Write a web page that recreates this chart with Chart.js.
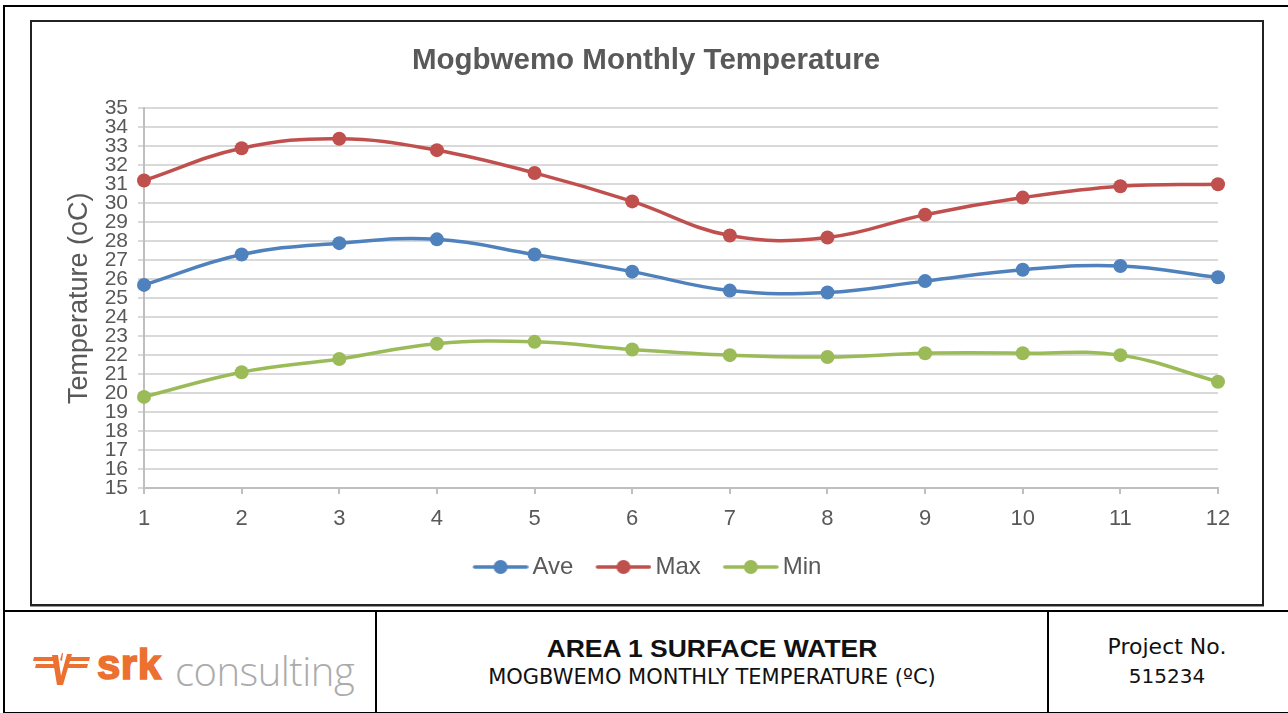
<!DOCTYPE html>
<html>
<head>
<meta charset="utf-8">
<script src="https://cdn.jsdelivr.net/npm/chart.js@4.4.0/dist/chart.umd.min.js"></script>
<style>
  body { margin: 0; background: #fff; width: 1288px; height: 713px; overflow: hidden; position: relative; font-family: "Liberation Sans", Arial, sans-serif; }
  .frame { position: absolute; left: 3px; top: 5px; width: 1300px; height: 705px; border: 2px solid #000; }
  .chartbox { position: absolute; left: 30px; top: 20px; width: 1230px; height: 582px; border: 2px solid #222; box-shadow: 0 1px 0 #999; }
  .chartwrap { position: absolute; left: 32px; top: 22px; width: 1228px; height: 580px; }
  .footline { position: absolute; left: 3px; top: 610px; width: 1300px; height: 2px; background: #000; }
  .vdiv { position: absolute; top: 611px; width: 2px; height: 101px; background: #000; }
  .ftxt { position: absolute; text-align: center; color: #111; font-family: "DejaVu Sans", sans-serif; white-space: nowrap; }
</style>
</head>
<body>
<div class="frame"></div>
<div class="chartbox"></div>
<div class="chartwrap"><canvas id="tempChart"></canvas></div>
<div class="footline"></div>
<div class="vdiv" style="left:375px"></div>
<div class="vdiv" style="left:1047px"></div>

<svg style="position:absolute;left:30px;top:648px" width="64" height="42" viewBox="0 0 64 42">
  <path d="M4 9 L27 9 L26 13 L3 13 Z M6 16 L27 16 L26 20 L5 20 Z" fill="#ec7030"/>
  <path d="M22 7 L28 7 L31 28 L37 6 L42 6 L33 37 L27 37 Z" fill="#ec7030"/>
  <path d="M30 12 L32 5 L33 5 L32 13 Z" fill="#ec7030"/>
  <path d="M39 9 L60 9 L59 13 L38 13 Z M38 16 L58 16 L57 20 L37 20 Z" fill="#ec7030"/>
</svg>
<div style="position:absolute;left:97px;top:641px;font:bold 42px 'Liberation Sans',Arial,sans-serif;color:#ec7030;-webkit-text-stroke:1.6px #ec7030;letter-spacing:0.5px">srk</div>
<div style="position:absolute;left:175px;top:643px;font:300 40px 'Open Sans','Liberation Sans',sans-serif;color:#ababab;letter-spacing:-0.5px">consulting</div>

<div class="ftxt" style="left:377px;width:670px;top:636px;font:bold 23px 'Liberation Sans',Arial,sans-serif;transform:scaleX(1.15)">AREA 1 SURFACE WATER</div>
<div class="ftxt" style="left:377px;width:670px;top:665px;font-size:21px">MOGBWEMO MONTHLY TEMPERATURE (ºC)</div>
<div class="ftxt" style="left:1049px;width:236px;top:634px;font-size:22px">Project No.</div>
<div class="ftxt" style="left:1049px;width:236px;top:664px;font-size:20px">515234</div>

<script>
// month numbers on the x axis
const months = ['1', '2', '3', '4', '5', '6', '7', '8', '9', '10', '11', '12'];
// monthly temperatures (oC)
const aveTemp = [25.7, 27.3, 27.9, 28.1, 27.3, 26.4, 25.4, 25.3, 25.9, 26.5, 26.7, 26.1];
const maxTemp = [31.2, 32.9, 33.4, 32.8, 31.6, 30.1, 28.3, 28.2, 29.4, 30.3, 30.9, 31.0];
const minTemp = [19.8, 21.1, 21.8, 22.6, 22.7, 22.3, 22.0, 21.9, 22.1, 22.1, 22.0, 20.6];
const yMin = 15;
const yMax = 35;

const textGrey = '#595959';

// legend symbol: short line with a dot, like Excel
// (canvas is wider on the left so the mark sits close to its label)
function legendMark(color) {
  const c = document.createElement('canvas');
  c.width = 66; c.height = 16;
  const g = c.getContext('2d');
  g.strokeStyle = color;
  g.lineWidth = 3.5;
  g.lineCap = 'round';
  g.beginPath(); g.moveTo(12, 8); g.lineTo(64, 8); g.stroke();
  g.fillStyle = color;
  g.beginPath(); g.arc(38, 8, 7, 0, Math.PI * 2); g.fill();
  return c;
}

function series(label, data, color) {
  return {
    label: label,
    data: data,
    borderColor: color,
    backgroundColor: color,
    borderWidth: 3.5,
    pointRadius: 7,
    pointHoverRadius: 7,
    pointBorderWidth: 0,
    tension: 0.4,
    fill: false,
    legendMark: legendMark(color)
  };
}

const ctx = document.getElementById('tempChart');
new Chart(ctx, {
  type: 'line',
  data: {
    labels: months,
    datasets: [
      series('Ave', aveTemp, '#4f81bd'),
      series('Max', maxTemp, '#c0504d'),
      series('Min', minTemp, '#9bbb59')
    ]
  },
  options: {
    responsive: true,
    maintainAspectRatio: false,
    animation: false,
    layout: { padding: { left: 42, right: 42, top: 0, bottom: 13 } },
    plugins: {
      title: {
        display: true,
        text: 'Mogbwemo Monthly Temperature',
        color: textGrey,
        font: { family: 'Liberation Sans', size: 29.5, weight: 'bold', lineHeight: 1.2 },
        padding: { top: 21, bottom: 30 }
      },
      legend: {
        position: 'bottom',
        labels: {
          color: textGrey,
          font: { family: 'Liberation Sans', size: 24 },
          usePointStyle: true,
          pointStyleWidth: 50,
          boxHeight: 16,
          padding: 20,
          generateLabels: function (chart) {
            const items = Chart.defaults.plugins.legend.labels.generateLabels(chart);
            items.forEach(function (it) {
              it.pointStyle = chart.data.datasets[it.datasetIndex].legendMark;
            });
            return items;
          }
        }
      },
      tooltip: { enabled: false }
    },
    scales: {
      x: {
        offset: false,
        grid: { display: true, drawOnChartArea: false, drawTicks: true, tickLength: 6, color: '#bfbfbf', lineWidth: 2 },
        border: { display: true, color: '#bfbfbf', width: 2 },
        ticks: { color: textGrey, font: { family: 'Liberation Sans', size: 22, lineHeight: 1 }, padding: 14, maxRotation: 0 },
        afterFit: function (scale) { scale.height = 47; }
      },
      y: {
        min: yMin,
        max: yMax,
        grid: { color: '#d9d9d9', lineWidth: 2, tickLength: 6 },
        border: { display: true, color: '#bfbfbf', width: 2 },
        ticks: { stepSize: 1, autoSkip: false, color: textGrey, font: { family: 'Liberation Sans', size: 21, lineHeight: 1 }, padding: 10 },
        title: {
          display: true,
          text: 'Temperature (oC)',
          color: textGrey,
          font: { family: 'Liberation Sans', size: 27, lineHeight: 1 },
          padding: { top: -8, bottom: 0 }
        },
        afterFit: function (scale) { scale.width = 70; }
      }
    }
  }
});
</script>
</body>
</html>
